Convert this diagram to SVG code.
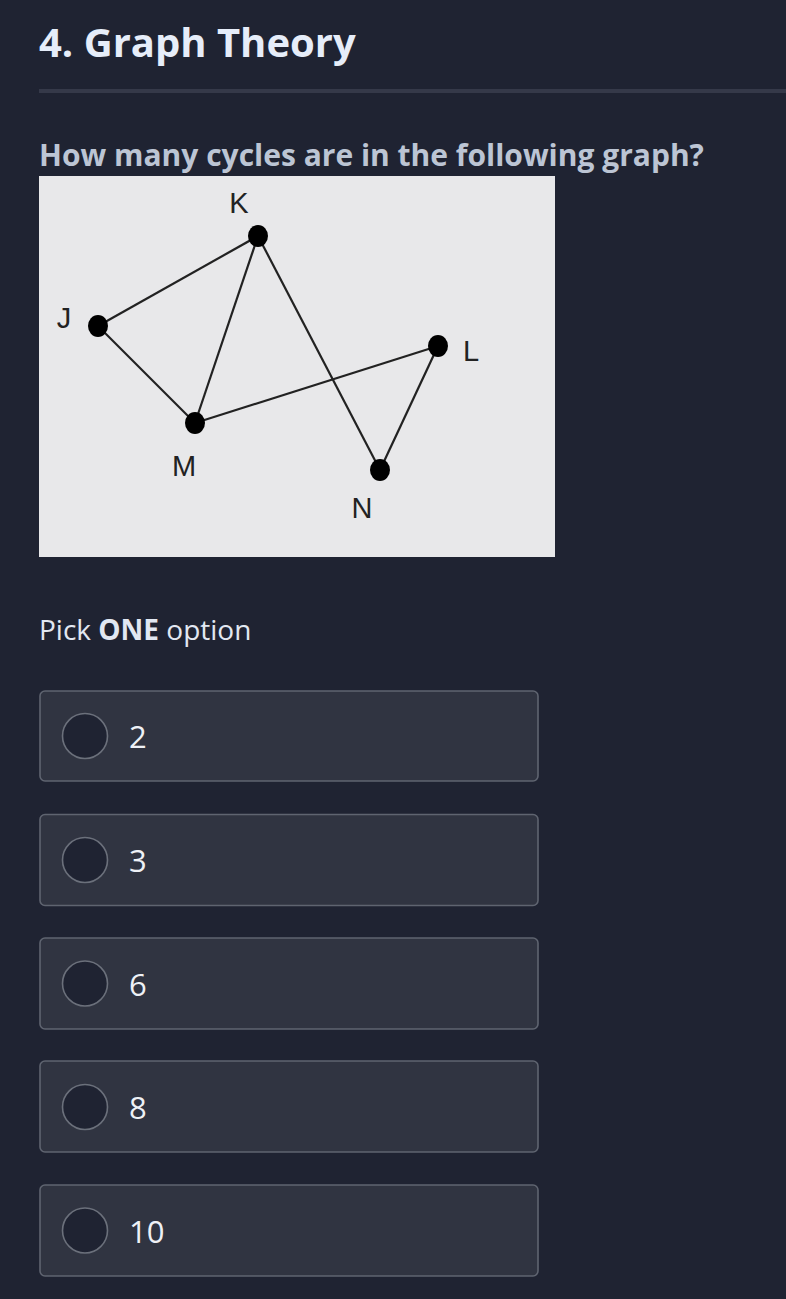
<svg xmlns="http://www.w3.org/2000/svg" width="786" height="1299" viewBox="0 0 786 1299">
<style>
.bg{fill:#1f2332}
.title{font-family:"Open Sans","Noto Sans",sans-serif;font-weight:700;font-size:40px;fill:#e6edf9}
.q{font-family:"Open Sans","Noto Sans",sans-serif;font-weight:700;font-size:30px;fill:#bcc5d4}
.pick{font-family:"Open Sans","Noto Sans",sans-serif;font-size:28px;fill:#e2e8f2}
.opt rect{fill:#303441;stroke:#5f6470;stroke-width:1.6}
.opt circle{fill:#1f2332;stroke:#6b707b;stroke-width:1.6}
.opt text{font-family:"Open Sans","Noto Sans",sans-serif;font-size:31px;fill:#eef1f6}
.edge{stroke:#222;stroke-width:2.2;fill:none}
.dot{fill:#000}
.lbl{font-family:"Liberation Sans",Arial,sans-serif;font-size:29px;fill:#222}
</style>
<rect class="bg" x="0" y="0" width="786" height="1299"/>
<text class="title" x="39" y="57">4. Graph Theory</text>
<rect x="39" y="89" width="747" height="4" fill="#353949"/>
<text class="q" x="39" y="166">How many cycles are in the following graph?</text>
<rect x="39" y="176" width="516" height="381" fill="#e8e8ea"/>
<g id="connectors">
<line class="edge" x1="98" y1="326" x2="258" y2="236"/>
<line class="edge" x1="98" y1="326" x2="195" y2="423"/>
<line class="edge" x1="258" y1="236" x2="195" y2="423"/>
<line class="edge" x1="258" y1="236" x2="380" y2="470"/>
<line class="edge" x1="195" y1="423" x2="438" y2="346"/>
<line class="edge" x1="438" y1="346" x2="380" y2="470"/>
</g>
<g id="K"><ellipse class="dot" cx="258" cy="236" rx="10" ry="11"/><text class="lbl" x="239" y="213" text-anchor="middle">K</text></g>
<g id="J"><ellipse class="dot" cx="98" cy="326" rx="10" ry="11"/><text class="lbl" x="64" y="328" text-anchor="middle">J</text></g>
<g id="L"><ellipse class="dot" cx="438" cy="346" rx="10" ry="11"/><text class="lbl" x="471" y="361" text-anchor="middle">L</text></g>
<g id="M"><ellipse class="dot" cx="195" cy="423" rx="10" ry="11"/><text class="lbl" x="184" y="476" text-anchor="middle">M</text></g>
<g id="N"><ellipse class="dot" cx="380" cy="470" rx="10" ry="11"/><text class="lbl" x="362" y="518" text-anchor="middle">N</text></g>
<text class="pick" x="39" y="640">Pick <tspan font-weight="700">ONE</tspan> option</text>
<g id="opt1" class="opt"><rect x="40" y="691" width="498" height="90" rx="5"/><circle cx="85" cy="736" r="22.5"/><text x="129" y="748">2</text></g>
<g id="opt2" class="opt"><rect x="40" y="814.5" width="498" height="91" rx="5"/><circle cx="85" cy="860" r="22.5"/><text x="129" y="872">3</text></g>
<g id="opt3" class="opt"><rect x="40" y="938" width="498" height="91" rx="5"/><circle cx="85" cy="983.5" r="22.5"/><text x="129" y="995.5">6</text></g>
<g id="opt4" class="opt"><rect x="40" y="1061" width="498" height="91" rx="5"/><circle cx="85" cy="1107" r="22.5"/><text x="129" y="1119">8</text></g>
<g id="opt5" class="opt"><rect x="40" y="1185" width="498" height="91" rx="5"/><circle cx="85" cy="1230.5" r="22.5"/><text x="129" y="1242.5">10</text></g>
</svg>
